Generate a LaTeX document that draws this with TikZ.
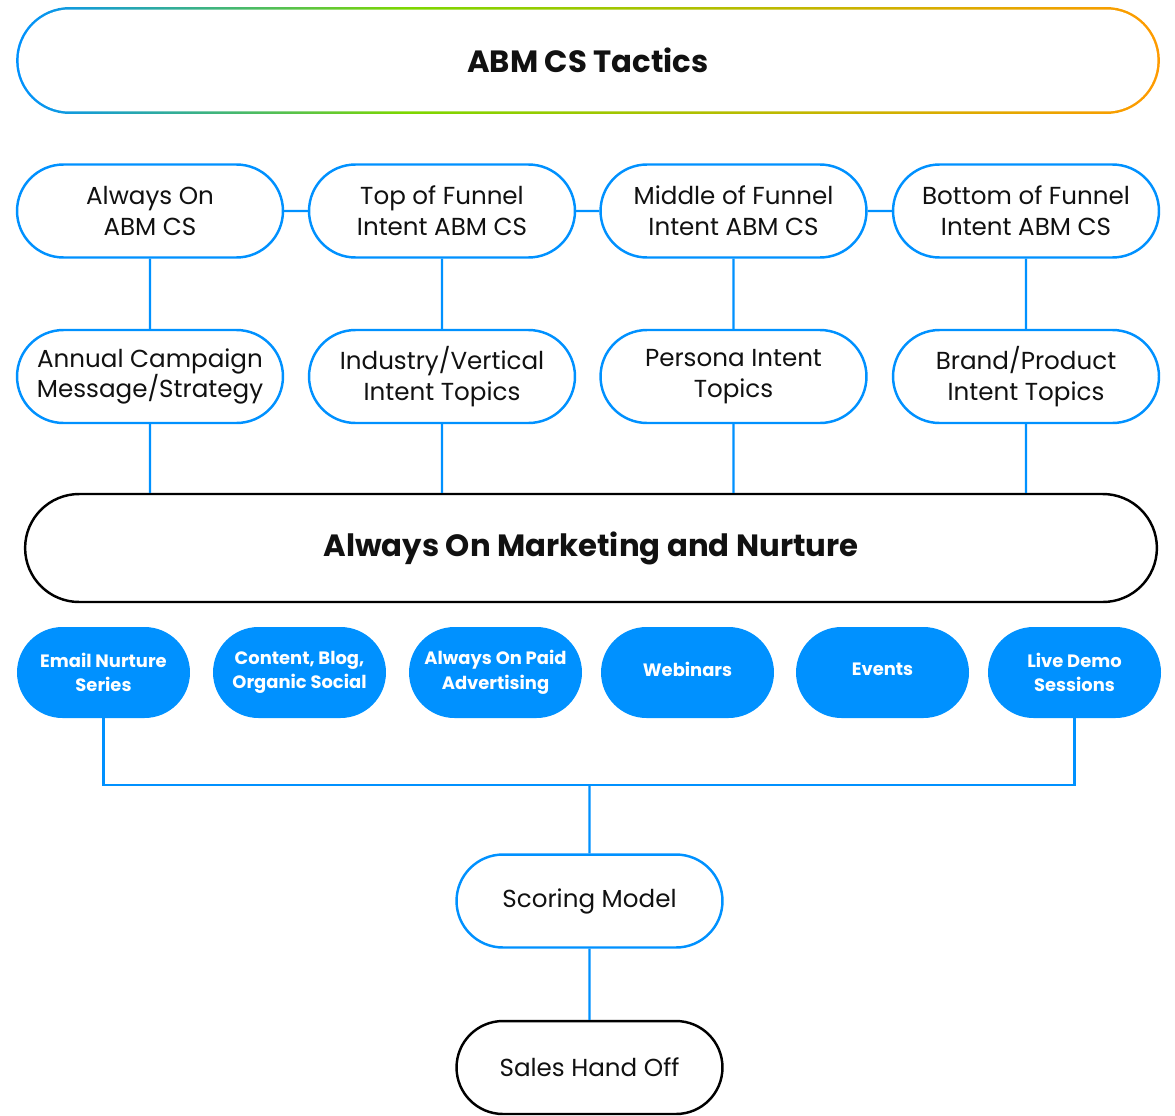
\documentclass[tikz,border=0pt]{standalone}
\usepackage{fontspec}
\setmainfont{Poppins}
\usetikzlibrary{shapes.misc}

\definecolor{abmblue}{RGB}{0,145,255}
\definecolor{abmgreen}{RGB}{125,215,0}
\definecolor{abmorange}{RGB}{255,155,0}
\definecolor{abmink}{RGB}{17,17,17}
\pgfdeclarehorizontalshading{tacticsgrad}{100bp}{color(0bp)=(abmblue); color(25bp)=(abmblue); color(42bp)=(abmgreen); color(75bp)=(abmorange); color(100bp)=(abmorange)}

\tikzset{
  stage/.style={rounded rectangle, draw=abmblue, line width=1.4pt, fill=white,
    minimum width=5.32cm, minimum height=1.86cm, inner sep=0pt, align=center,
    text=abmink, font=\fontsize{14}{17.5}\selectfont},
  darkstage/.style={stage, draw=black},
  channel/.style={rounded rectangle, fill=abmblue, minimum width=3.46cm,
    minimum height=1.82cm, inner sep=0pt, align=center, text=white,
    font=\fontsize{10.2}{14}\selectfont\bfseries},
  banner/.style={rounded rectangle, inner sep=0pt, align=center, text=abmink,
    font=\fontsize{17.5}{21}\selectfont\bfseries},
  link/.style={draw=abmblue, line width=1.35pt},
}

\begin{document}
\begin{tikzpicture}[x=0.02cm,y=-0.02cm]
\useasboundingbox (0,0) rectangle (1175,1115);

\node[banner, shade, shading=tacticsgrad, minimum width=22.88cm, minimum height=2.14cm] (tacticsrim) at (588,60.5) {};
\node[banner, fill=white, minimum width=22.78cm, minimum height=2.04cm] (tactics) at (tacticsrim) {ABM CS Tactics};

\node[stage] (a1) at (150,211) {Always On\\ABM CS};
\node[stage] (a2) at (442,211) {Top of Funnel\\Intent ABM CS};
\node[stage] (a3) at (733.5,211) {Middle of Funnel\\Intent ABM CS};
\node[stage] (a4) at (1026,211) {Bottom of Funnel\\Intent ABM CS};

\node[stage] (b1) at (150,376.5) {Annual Campaign\\Message/Strategy};
\node[stage] (b2) at (442,376.5) {Industry/Vertical\\Intent Topics};
\node[stage] (b3) at (733.5,376.5) {Persona Intent\\Topics};
\node[stage] (b4) at (1026,376.5) {Brand/Product\\Intent Topics};

\node[banner, draw=black, line width=1.4pt, minimum width=22.64cm, minimum height=2.16cm] (nurture) at (591,548) {Always On Marketing and Nurture};

\node[channel] (c1) at (103.5,672.5) {Email Nurture\\Series};
\node[channel] (c2) at (299.5,672.5) {Content, Blog,\\Organic Social};
\node[channel] (c3) at (495.5,672.5) {Always On Paid\\Advertising};
\node[channel] (c4) at (687.5,672.5) {\raisebox{4pt}{Webinars}};
\node[channel] (c5) at (882.5,672.5) {\raisebox{4pt}{Events}};
\node[channel] (c6) at (1074.5,672.5) {Live Demo\\Sessions};

\coordinate (bus) at (589.5,785);

\node[stage] (score) at (589.5,901) {Scoring Model};
\node[darkstage] (handoff) at (589.5,1067.5) {Sales Hand Off};

\draw[link] (a1) -- (a2);
\draw[link] (a2) -- (a3);
\draw[link] (a3) -- (a4);
\foreach \i in {1,...,4}{
  \draw[link] (a\i) -- (b\i);
  \draw[link] (b\i) -- (b\i.south |- nurture.north);
}
\draw[link] (c1.south) |- (bus) -| (c6.south);
\draw[link] (bus) -- (score);
\draw[link] (score) -- (handoff);

\end{tikzpicture}
\end{document}
